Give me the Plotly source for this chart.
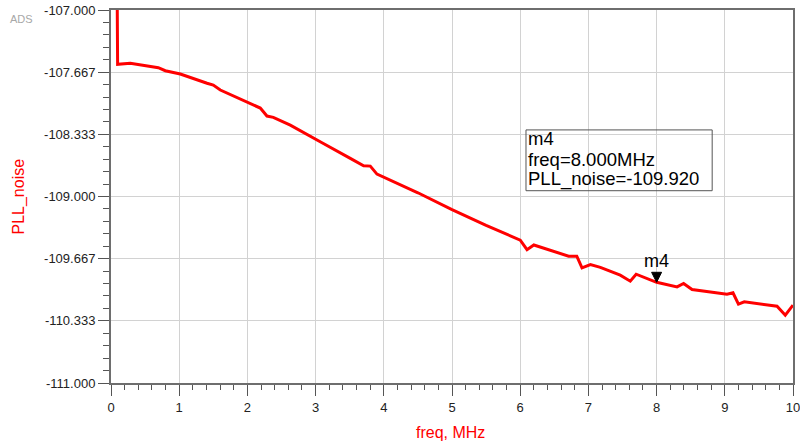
import plotly.graph_objects as go

# ---- data ----
freq_mhz = [0.09, 0.097, 0.283, 0.694, 0.796, 1.016, 1.408, 1.50, 1.603, 2.189, 2.287, 2.380,
            2.629, 2.996, 3.094, 3.509, 3.704, 3.802, 3.900, 4.5, 5.0, 5.5, 6.001, 6.10, 6.20,
            6.71, 6.83, 6.906, 7.03, 7.175, 7.467, 7.614, 7.70, 8.0, 8.30, 8.396, 8.52,
            9.032, 9.12, 9.20, 9.286, 9.766, 9.887, 10.0]
pll_noise = [-106.8, -107.583, -107.572, -107.619, -107.651, -107.687, -107.786, -107.805, -107.858,
             -108.052, -108.137, -108.151, -108.234, -108.387, -108.424, -108.591, -108.67, -108.674,
             -108.76, -108.96, -109.14, -109.31, -109.468, -109.57, -109.52, -109.64, -109.64,
             -109.765, -109.73, -109.76, -109.843, -109.908, -109.833, -109.92, -109.969, -109.932,
             -109.997, -110.047, -110.033, -110.155, -110.13, -110.176, -110.273, -110.165]

marker_name = "m4"
marker_freq = 8.0
marker_value = -109.920

x_ticks = list(range(0, 11))
y_ticks = [-111.0, -110.333, -109.667, -109.0, -108.333, -107.667, -107.0]

RED = "#ff0000"
FONT = "Liberation Sans, Arial, sans-serif"

fig = go.Figure()
fig.add_trace(go.Scatter(x=freq_mhz, y=pll_noise, mode="lines",
                         line=dict(color=RED, width=3), hoverinfo="skip", showlegend=False))

axis_common = dict(showline=True, linecolor="#6e6e6e", linewidth=2, mirror=True,
                   showgrid=True, gridcolor="#d2d2d2", gridwidth=1, zeroline=False,
                   ticks="outside", tickcolor="#555555", tickwidth=1, ticklen=11,
                   automargin=False, ticklabeloverflow="allow",
                   tickfont=dict(family=FONT, size=13, color="#222222"))

fig.update_xaxes(range=[0, 10], tickvals=x_ticks, ticktext=[str(v) for v in x_ticks],
                 minor=dict(dtick=0.2, ticklen=5, tickcolor="#555555", ticks="outside", showgrid=False),
                 **axis_common)
fig.update_yaxes(range=[-111, -107], tickvals=y_ticks, ticktext=[f"{v:.3f}" for v in y_ticks],
                 minor=dict(tick0=-111, dtick=2 / 15, ticklen=6, tickcolor="#555555", ticks="outside",
                            showgrid=False),
                 **axis_common)

# marker triangle (apex on the curve)
fig.add_shape(type="path", xref="x", yref="y", xsizemode="pixel", ysizemode="pixel",
              xanchor=marker_freq, yanchor=marker_value,
              path="M-5,10 L5,10 L0,0 Z", fillcolor="black", line=dict(color="black", width=1))
fig.add_annotation(x=marker_freq, y=marker_value, xref="x", yref="y", text=marker_name,
                   showarrow=False, yanchor="middle", yshift=21,
                   font=dict(family=FONT, size=18, color="black"))

# marker readout box
box_x0, box_x1, box_y0, box_y1 = 0.6085, 0.8815, 0.5155, 0.6785
fig.add_shape(type="rect", xref="paper", yref="paper", x0=box_x0, x1=box_x1, y0=box_y0, y1=box_y1,
              line=dict(color="#555555", width=1), fillcolor="rgba(255,255,255,0)")
lines = [marker_name, f"freq={marker_freq:.3f}MHz", f"PLL_noise={marker_value:.3f}"]
line_y = [0.655, 0.600, 0.547]
for t, yy in zip(lines, line_y):
    fig.add_annotation(x=box_x0 + 0.0015, y=yy, xref="paper", yref="paper", text=t, showarrow=False,
                       xanchor="left", yanchor="middle", borderpad=0,
                       font=dict(family=FONT, size=18.5, color="black"))

# axis titles
fig.add_annotation(x=-0.1349, y=0.5, xref="paper", yref="paper", text="PLL_noise", textangle=-90,
                   showarrow=False, xanchor="center", yanchor="middle",
                   font=dict(family=FONT, size=16, color=RED))
fig.add_annotation(x=0.4985, y=-0.134, xref="paper", yref="paper", text="freq, MHz",
                   showarrow=False, xanchor="center", yanchor="middle",
                   font=dict(family=FONT, size=16, color=RED))
# ADS watermark
fig.add_annotation(x=-0.131, y=0.9756, xref="paper", yref="paper", text="ADS", showarrow=False,
                   xanchor="center", yanchor="middle",
                   font=dict(family=FONT, size=11, color="#a8a8a8"))

fig.update_layout(width=800, height=444, margin=dict(l=111, r=7, t=10, b=61),
                  paper_bgcolor="white", plot_bgcolor="white", showlegend=False)

fig.write_html("out.html")
